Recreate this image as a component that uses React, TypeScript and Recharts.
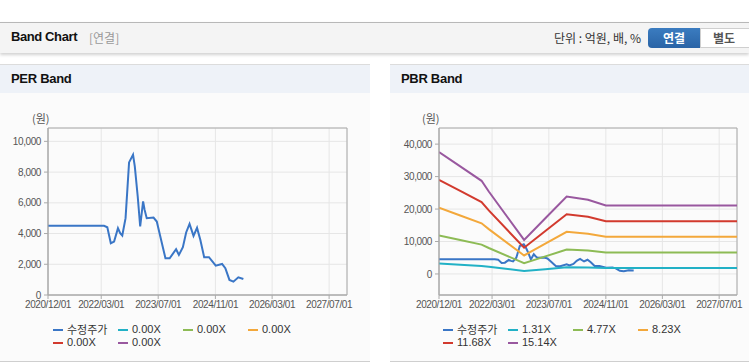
import React from 'react';
import { LineChart, Line, XAxis, YAxis, CartesianGrid, ReferenceArea } from 'recharts';

// ---- data ----
const tickLabels = ['2020/12/01', '2022/03/01', '2023/07/01', '2024/11/01', '2026/03/01', '2027/07/01'];
const axisStart = '2020/12/01';
const axisEnd = '2027/12/01';

const priceDates = [
  '2020/12/01', '2022/03/25', '2022/04/22', '2022/05/22', '2022/06/19', '2022/07/22', '2022/08/10',
  '2022/08/28', '2022/09/25', '2022/10/25', '2022/11/28', '2022/12/13', '2023/01/07', '2023/01/28',
  '2023/02/22', '2023/03/07', '2023/03/25', '2023/05/22', '2023/06/19', '2023/07/16', '2023/09/01',
  '2023/10/07', '2023/12/01', '2023/12/25', '2024/01/28', '2024/02/25', '2024/03/25', '2024/04/28',
  '2024/05/28', '2024/06/25', '2024/07/28', '2024/09/07', '2024/11/04', '2024/12/28', '2025/01/25',
  '2025/03/01', '2025/04/04', '2025/05/16', '2025/06/28',
];
const priceValues = [
  4500, 4500, 4410, 3370, 3480, 4350, 4020,
  3870, 5000, 8630, 9130, 8370, 6410, 4460,
  6090, 5540, 5000, 5040, 4780, 3910, 2390,
  2390, 2980, 2610, 3110, 4070, 4630, 3850,
  4370, 3590, 2460, 2460, 1910, 2020, 1740,
  980, 870, 1150, 1040,
];

const bandDates = [
  '2020/12/01', '2021/06/01', '2021/12/01', '2022/02/01', '2022/12/01',
  '2023/06/01', '2023/12/01', '2024/06/01', '2024/11/01', '2027/12/01',
];
const pbrBand1 = [3250, 2870, 2480, 2200, 910, 1490, 2060, 1980, 1820, 1820];
const pbrBand2 = [11830, 10450, 9040, 8000, 3310, 5410, 7520, 7200, 6640, 6640];
const pbrBand3 = [20410, 18020, 15600, 13810, 5700, 9340, 12970, 12420, 11460, 11460];
const pbrBand4 = [28970, 25580, 22150, 19600, 8090, 13260, 18410, 17630, 16260, 16260];
const pbrBand5 = [37550, 33160, 28700, 25400, 10490, 17180, 23860, 22850, 21080, 21080];

const priceLabel = '수정주가';
const perBandLabels = ['0.00X', '0.00X', '0.00X', '0.00X', '0.00X'];
const pbrBandLabels = ['1.31X', '4.77X', '8.23X', '11.68X', '15.14X'];

const perTicks = [0, 2000, 4000, 6000, 8000, 10000];
const perDomain = [0, 10870];
const pbrTicks = [0, 10000, 20000, 30000, 40000];
const pbrDomain = [-6480, 44970];

// ---- styling ----
const PRICE_COLOR = '#3a76c6';
const BAND_COLORS = ['#22b1c6', '#8dbb55', '#f3a83b', '#d23a2e', '#99589f'];
const FONT = '"Liberation Sans", Arial, sans-serif';
const KFONT = '"Noto Sans CJK KR", "Liberation Sans", sans-serif';

const toTs = (s: string) => {
  const [y, m, d] = s.split('/').map(Number);
  return Date.UTC(y, m - 1, d);
};

const tickTs = tickLabels.map(toTs);
const xDomain = [toTs(axisStart), toTs(axisEnd)];
const labelOf = (t: number) => tickLabels[tickTs.indexOf(t)] ?? '';

const priceData = priceDates.map((d, i) => ({ t: toTs(d), v: priceValues[i] }));
const bandSeries = [pbrBand1, pbrBand2, pbrBand3, pbrBand4, pbrBand5].map((arr) =>
  bandDates.map((d, i) => ({ t: toTs(d), v: arr[i] }))
);

const tickStyle = { fontSize: 10, fill: '#555', fontFamily: FONT, letterSpacing: -0.4 } as any;

function BandPlot(props: {
  width: number;
  marginRight: number;
  yWidth: number;
  domain: number[];
  ticks: number[];
  bands: boolean;
}) {
  const { width, marginRight, yWidth, domain, ticks, bands } = props;
  return (
    <LineChart width={width} height={232} margin={{ top: 35, right: marginRight, bottom: 0, left: 0 }}>
      <CartesianGrid stroke="#e6e6e6" strokeWidth={1} />
      <XAxis
        dataKey="t"
        type="number"
        domain={xDomain}
        ticks={tickTs}
        allowDataOverflow
        tickFormatter={labelOf}
        tick={tickStyle}
        tickSize={4}
        tickMargin={2}
        height={30}
        interval={0}
        axisLine={{ stroke: '#aaa' }}
        tickLine={{ stroke: '#aaa' }}
      />
      <YAxis
        type="number"
        domain={domain}
        ticks={ticks}
        allowDataOverflow
        tickFormatter={(v: number) => v.toLocaleString('en-US')}
        tick={tickStyle}
        tickSize={4}
        tickMargin={3}
        width={yWidth}
        interval={0}
        axisLine={{ stroke: '#aaa' }}
        tickLine={{ stroke: '#aaa' }}
      />
      <ReferenceArea
        x1={xDomain[0]}
        x2={xDomain[1]}
        y1={domain[0]}
        y2={domain[1]}
        stroke="#aaa"
        strokeWidth={1}
        fill="#fff"
        fillOpacity={0}
      />
      <Line
        data={priceData}
        dataKey="v"
        type="linear"
        stroke={PRICE_COLOR}
        strokeWidth={2}
        dot={false}
        isAnimationActive={false}
      />
      {bands &&
        bandSeries.map((s, i) => (
          <Line
            key={i}
            data={s}
            dataKey="v"
            type="linear"
            stroke={BAND_COLORS[i]}
            strokeWidth={2}
            dot={false}
            isAnimationActive={false}
          />
        ))}
    </LineChart>
  );
}

function Legend(props: { left: number; labels: string[] }) {
  const items = [{ label: priceLabel, color: PRICE_COLOR }].concat(
    props.labels.map((l, i) => ({ label: l, color: BAND_COLORS[i] }))
  );
  return (
    <div
      style={{
        position: 'absolute',
        left: props.left,
        top: 323,
        display: 'grid',
        gridTemplateColumns: '65px 65px 65px 65px',
        gridAutoRows: '13px',
      }}
    >
      {items.map((it, i) => (
        <div key={i} style={{ display: 'flex', alignItems: 'center', whiteSpace: 'nowrap' }}>
          <span style={{ display: 'inline-block', width: 10, height: 2, background: it.color, marginRight: 4 }} />
          <span
            style={{
              fontSize: 11,
              color: '#333',
              fontFamily: i === 0 ? KFONT : FONT,
              lineHeight: '13px',
            }}
          >
            {it.label}
          </span>
        </div>
      ))}
    </div>
  );
}

function Panel(props: { left: number; width: number; title: string }) {
  return (
    <>
      <div
        style={{
          position: 'absolute',
          left: props.left,
          top: 64,
          width: props.width,
          height: 298,
          background: '#fbfbfb',
          borderTop: '1px solid #dcdcdc',
          borderBottom: '1px solid #cfcfcf',
          boxSizing: 'border-box',
        }}
      />
      <div
        style={{
          position: 'absolute',
          left: props.left,
          top: 65,
          width: props.width,
          height: 28,
          background: '#eef2f8',
        }}
      />
      <div
        style={{
          position: 'absolute',
          left: props.left + 11,
          top: 71,
          fontSize: 13,
          fontWeight: 'bold',
          fontFamily: FONT,
          color: '#111',
          letterSpacing: -0.3,
        }}
      >
        {props.title}
      </div>
    </>
  );
}

export default function App() {
  return (
    <div
      style={{
        position: 'absolute',
        left: 0,
        top: 0,
        width: 749,
        height: 364,
        background: '#fff',
        overflow: 'hidden',
        fontFamily: FONT,
      }}
    >
      {/* header */}
      <div
        style={{
          position: 'absolute',
          left: 0,
          top: 22,
          width: 749,
          height: 31,
          background: '#f4f4f4',
          borderTop: '1px solid #b8b8b8',
          boxSizing: 'border-box',
          boxShadow: '0 2px 3px rgba(0,0,0,0.18)',
        }}
      />
      <div
        style={{
          position: 'absolute',
          left: 11,
          top: 29,
          fontSize: 13,
          fontWeight: 'bold',
          color: '#111',
          letterSpacing: -0.4,
        }}
      >
        Band Chart
      </div>
      <div style={{ position: 'absolute', left: 89, top: 30, fontSize: 12, color: '#999', fontFamily: KFONT, lineHeight: '16px' }}>
        [연결]
      </div>
      <div
        style={{
          position: 'absolute',
          right: 108,
          top: 30,
          fontSize: 12,
          color: '#333',
          fontFamily: KFONT,
          lineHeight: '16px',
        }}
      >
        단위 : 억원, 배, %
      </div>
      <div
        style={{
          position: 'absolute',
          left: 648,
          top: 28,
          width: 52,
          height: 20,
          background: 'linear-gradient(#3b7cc0, #2a64a6)',
          borderRadius: '4px 0 0 4px',
          color: '#fff',
          fontWeight: 'bold',
          fontSize: 12,
          fontFamily: KFONT,
          textAlign: 'center',
          lineHeight: '20px',
        }}
      >
        연결
      </div>
      <div
        style={{
          position: 'absolute',
          left: 700,
          top: 28,
          width: 56,
          height: 20,
          background: '#fff',
          border: '1px solid #cfcfcf',
          boxSizing: 'border-box',
          color: '#555',
          fontWeight: 'bold',
          fontSize: 12,
          fontFamily: KFONT,
          lineHeight: '18px',
          paddingLeft: 12,
        }}
      >
        별도
      </div>

      <Panel left={0} width={370} title="PER Band" />
      <Panel left={390} width={359} title="PBR Band" />

      <div style={{ position: 'absolute', left: 32, top: 110, fontSize: 11, color: '#555', fontFamily: KFONT }}>(원)</div>
      <div style={{ position: 'absolute', left: 422, top: 110, fontSize: 11, color: '#555', fontFamily: KFONT }}>(원)</div>

      <div style={{ position: 'absolute', left: 0, top: 93 }}>
        <BandPlot width={370} marginRight={23} yWidth={48} domain={perDomain} ticks={perTicks} bands={false} />
      </div>
      <div style={{ position: 'absolute', left: 390, top: 93 }}>
        <BandPlot width={359} marginRight={12} yWidth={49} domain={pbrDomain} ticks={pbrTicks} bands={true} />
      </div>

      <Legend left={53} labels={perBandLabels} />
      <Legend left={443} labels={pbrBandLabels} />
    </div>
  );
}
